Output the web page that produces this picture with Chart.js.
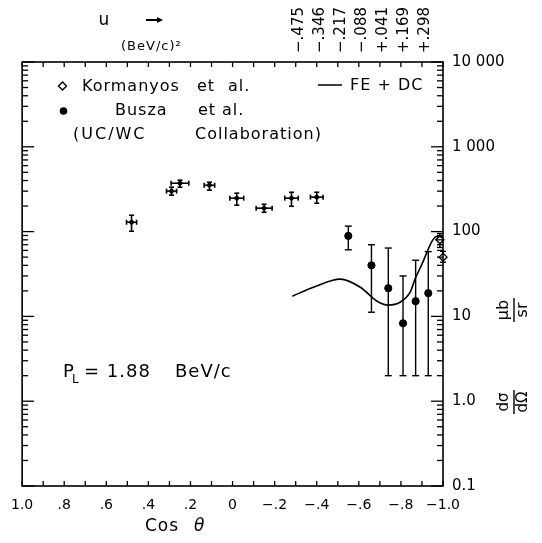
<!DOCTYPE html>
<html><head><meta charset="utf-8">
<script src="https://cdn.jsdelivr.net/npm/chart.js@4.4.0/dist/chart.umd.min.js"></script>
<style>html,body{margin:0;padding:0;background:#fff;}#wrap{width:542px;height:543px;position:relative;}</style>
</head><body><div id="wrap"><canvas id="c" width="542" height="543"></canvas></div>
<script>
// ---- data ----
const buszaCos    = [0.48, 0.29, 0.25, 0.11, -0.02, -0.15, -0.28, -0.40];
const buszaVal    = [129, 300, 372, 352, 248, 189, 248, 255];
const buszaLo     = [101, 269, 334, 308, 205, 169, 199, 216];
const buszaHi     = [156, 334, 404, 382, 284, 210, 291, 291];
const buszaCosErr = [0.024, 0.024, 0.042, 0.025, 0.033, 0.038, 0.032, 0.030];

const backCos = [-0.55, -0.66, -0.74, -0.81, -0.87, -0.93];
const backVal = [89, 40, 21.5, 8.3, 15.1, 18.8];
const backLo  = [61, 11.2, 2.0, 2.0, 2.0, 2.0];
const backHi  = [116, 70, 64, 30, 46, 58];

const kormCos = [-0.985, -1.0];
const kormVal = [80, 50];
const kormLo  = [65, 43.6];
const kormHi  = [95, 58.5];

const curveCos = [-0.284, -0.384, -0.512, -0.607, -0.687, -0.739, -0.796, -0.844, -0.867, -0.900, -0.924, -0.948, -0.972, -1.0];
const curveVal = [17.3, 22.1, 27.5, 22.1, 15.1, 13.6, 14.7, 19.3, 27.5, 41.3, 57.2, 77.1, 88.3, 85.9];

const cosTickValues = [1, 0.8, 0.6, 0.4, 0.2, 0, -0.2, -0.4, -0.6, -0.8, -1];
const cosTickLabels = ['1.0', '.8', '.6', '.4', '.2', '0', '\u2212.2', '\u2212.4', '\u2212.6', '\u2212.8', '\u22121.0'];
const uTickValues = [-0.4, -0.5, -0.6, -0.7, -0.8, -0.9, -1.0];
const uTickLabels = ['\u2212.475', '\u2212.346', '\u2212.217', '\u2212.088', '+.041', '+.169', '+.298'];
const yTickValues = [0.1, 1, 10, 100, 1000, 10000];
const yTickLabels = ['0.1', '1.0', '10', '100', '1 000', '10 000'];

const FONT = 'DejaVu Sans';
Chart.defaults.font.family = FONT;
Chart.defaults.color = '#000';

function xy(xs, ys) { return xs.map((x, i) => ({x: x, y: ys[i]})); }

function line(ctx, x1, y1, x2, y2) { ctx.beginPath(); ctx.moveTo(x1, y1); ctx.lineTo(x2, y2); ctx.stroke(); }
function txt(ctx, s, x, y, size, align, base, spacing) {
  ctx.font = size + 'px "' + FONT + '"';
  ctx.textAlign = align || 'left';
  ctx.textBaseline = base || 'middle';
  ctx.letterSpacing = spacing || '0px';
  ctx.fillText(s, x, y);
  ctx.letterSpacing = '0px';
}

const ann = {
  id: 'ann',
  beforeDatasetsDraw(chart) {
    const ctx = chart.ctx, xs = chart.scales.x, ys = chart.scales.y;
    ctx.save();
    ctx.strokeStyle = '#000';
    // Busza forward points: x and y error bars with caps
    ctx.lineWidth = 1.6;
    buszaCos.forEach((c, i) => {
      const px = xs.getPixelForValue(c), py = ys.getPixelForValue(buszaVal[i]);
      const y1 = ys.getPixelForValue(buszaLo[i]), y2 = ys.getPixelForValue(buszaHi[i]);
      const x1 = xs.getPixelForValue(c + buszaCosErr[i]), x2 = xs.getPixelForValue(c - buszaCosErr[i]);
      line(ctx, px, y1, px, y2); line(ctx, px - 2.5, y1, px + 2.5, y1); line(ctx, px - 2.5, y2, px + 2.5, y2);
      line(ctx, x1, py, x2, py); line(ctx, x1, py - 2.5, x1, py + 2.5); line(ctx, x2, py - 2.5, x2, py + 2.5);
    });
    // Busza backward points
    ctx.lineWidth = 1.4;
    backCos.forEach((c, i) => {
      const px = xs.getPixelForValue(c);
      const y1 = ys.getPixelForValue(backLo[i]), y2 = ys.getPixelForValue(backHi[i]);
      line(ctx, px, y1, px, y2); line(ctx, px - 3.5, y1, px + 3.5, y1); line(ctx, px - 3.5, y2, px + 3.5, y2);
    });
    // Kormanyos
    kormCos.forEach((c, i) => {
      const px = xs.getPixelForValue(c);
      const y1 = ys.getPixelForValue(kormLo[i]), y2 = ys.getPixelForValue(kormHi[i]);
      line(ctx, px, y1, px, y2); line(ctx, px - 3, y1, px + 3, y1); line(ctx, px - 3, y2, px + 3, y2);
    });
    ctx.restore();
  },
  afterDraw(chart) {
    const ctx = chart.ctx, a = chart.chartArea, xs = chart.scales.x, ys = chart.scales.y;
    ctx.save();
    ctx.strokeStyle = '#000'; ctx.fillStyle = '#000';
    ctx.lineWidth = 1.6;
    ctx.strokeRect(a.left, a.top, a.right - a.left, a.bottom - a.top);
    ctx.lineWidth = 1.3;
    for (let k = -10; k <= 10; k++) {
      const px = xs.getPixelForValue(k / 10);
      line(ctx, px, a.bottom, px, a.bottom - 5);
      line(ctx, px, a.top, px, a.top + 5);
    }
    for (let d = -1; d <= 4; d++) {
      for (let m = 1; m <= 9; m++) {
        const v = m * Math.pow(10, d);
        if (v > 10000) break;
        const py = ys.getPixelForValue(v);
        const len = m === 1 ? 12 : 6;
        line(ctx, a.left, py, a.left + len, py);
        line(ctx, a.right, py, a.right - len, py);
      }
    }
    // legend block
    ctx.lineWidth = 1.4;
    ctx.beginPath();
    ctx.moveTo(62.5, 82); ctx.lineTo(66.5, 86); ctx.lineTo(62.5, 90); ctx.lineTo(58.5, 86); ctx.closePath(); ctx.stroke();
    ctx.beginPath(); ctx.arc(63.5, 111, 3.8, 0, Math.PI * 2); ctx.fill();
    txt(ctx, 'Kormanyos', 82, 87, 16, 'left', 'middle', '1px');
    txt(ctx, 'et', 197, 87, 16, 'left', 'middle', '1px');
    txt(ctx, 'al.', 228, 87, 16, 'left', 'middle', '1px');
    txt(ctx, 'Busza', 115, 111, 16, 'left', 'middle', '1px');
    txt(ctx, 'et', 198, 111, 16, 'left', 'middle', '1px');
    txt(ctx, 'al.', 222, 111, 16, 'left', 'middle', '1px');
    txt(ctx, '(UC/WC', 73, 135, 16, 'left', 'middle', '2px');
    txt(ctx, 'Collaboration)', 195, 135, 16, 'left', 'middle', '1px');
    ctx.lineWidth = 1.5;
    line(ctx, 318, 85, 342, 85);
    txt(ctx, 'FE + DC', 350, 86, 16, 'left', 'middle', '1px');
    // P_L annotation
    txt(ctx, 'P', 63, 372, 18, 'left', 'middle');
    txt(ctx, 'L', 72, 380, 12, 'left', 'middle');
    txt(ctx, '= 1.88', 84, 372, 18, 'left', 'middle', '1px');
    txt(ctx, 'BeV/c', 175, 372, 18, 'left', 'middle', '1px');
    // u label on top
    txt(ctx, 'u', 104, 21, 17, 'center', 'middle');
    ctx.lineWidth = 2;
    line(ctx, 146, 20, 158, 20);
    ctx.beginPath(); ctx.moveTo(163, 20); ctx.lineTo(157, 17); ctx.lineTo(157, 23); ctx.closePath(); ctx.fill();
    txt(ctx, '(BeV/c)\u00B2', 121, 47, 13, 'left', 'middle', '1px');
    // x title
    txt(ctx, 'Cos', 145, 527, 17, 'left', 'middle', '1px');
    ctx.font = 'italic 17px "' + FONT + '"'; ctx.textAlign = 'left'; ctx.fillText('\u03B8', 194, 527);
    // right title (rotated fractions)
    function frac(num, den, cx, cy, half, size) {
      ctx.save();
      ctx.translate(cx, cy); ctx.rotate(-Math.PI / 2);
      txt(ctx, num, 0, -10, size, 'center', 'middle');
      ctx.lineWidth = 1.4; line(ctx, -half, 0, half, 0);
      txt(ctx, den, 0, 9, size, 'center', 'middle');
      ctx.restore();
    }
    frac('\u03BCb', 'sr', 514, 310, 12, 16);
    frac('d\u03C3', 'd\u03A9', 514, 402, 12, 15);
    ctx.restore();
  }
};

new Chart(document.getElementById('c'), {
  type: 'scatter',
  data: {
    datasets: [
      { label: 'FE + DC', type: 'line', data: xy(curveCos, curveVal), borderColor: '#000', borderWidth: 1.6,
        pointRadius: 0, fill: false, cubicInterpolationMode: 'monotone', clip: false },
      { label: 'Busza et al.', data: xy(buszaCos, buszaVal), backgroundColor: '#000', borderColor: '#000', pointRadius: 2 },
      { label: 'Busza et al. (backward)', data: xy(backCos, backVal), backgroundColor: '#000', borderColor: '#000', pointRadius: 3.6 },
      { label: 'Kormanyos et al.', data: xy(kormCos, kormVal), pointStyle: 'rectRot', backgroundColor: '#fff', borderColor: '#000',
        borderWidth: 1.4, pointRadius: 4, clip: false }
    ]
  },
  options: {
    responsive: false, animation: false,
    layout: { padding: { left: 21, top: 0, right: 0, bottom: 0 } },
    plugins: { legend: { display: false }, tooltip: { enabled: false } },
    scales: {
      x: {
        type: 'linear', position: 'bottom', reverse: true, min: -1, max: 1,
        grid: { display: false, drawTicks: false }, border: { display: false },
        afterBuildTicks: s => { s.ticks = cosTickValues.map(v => ({ value: v })); },
        afterFit: s => { s.height = 57; },
        ticks: { autoSkip: false, minRotation: 0, maxRotation: 0, padding: 11, font: { size: 14 }, color: '#000',
          callback: (v, i) => cosTickLabels[i] }
      },
      x2: {
        type: 'linear', position: 'top', reverse: true, min: -1, max: 1,
        grid: { display: false, drawTicks: false }, border: { display: false },
        afterBuildTicks: s => { s.ticks = uTickValues.map(v => ({ value: v })); },
        afterFit: s => { s.height = 62; },
        ticks: { autoSkip: false, minRotation: 90, maxRotation: 90, padding: 9, font: { size: 15 }, color: '#000',
          callback: (v, i) => uTickLabels[i] }
      },
      y: {
        type: 'logarithmic', position: 'right', min: 0.1, max: 10000,
        grid: { display: false, drawTicks: false }, border: { display: false },
        afterBuildTicks: s => { s.ticks = yTickValues.map(v => ({ value: v })); },
        afterFit: s => { s.width = 99; },
        ticks: { autoSkip: false, padding: 9, font: { size: 15 }, color: '#000',
          callback: (v, i) => yTickLabels[i] }
      }
    }
  },
  plugins: [ann]
});
</script></body></html>
